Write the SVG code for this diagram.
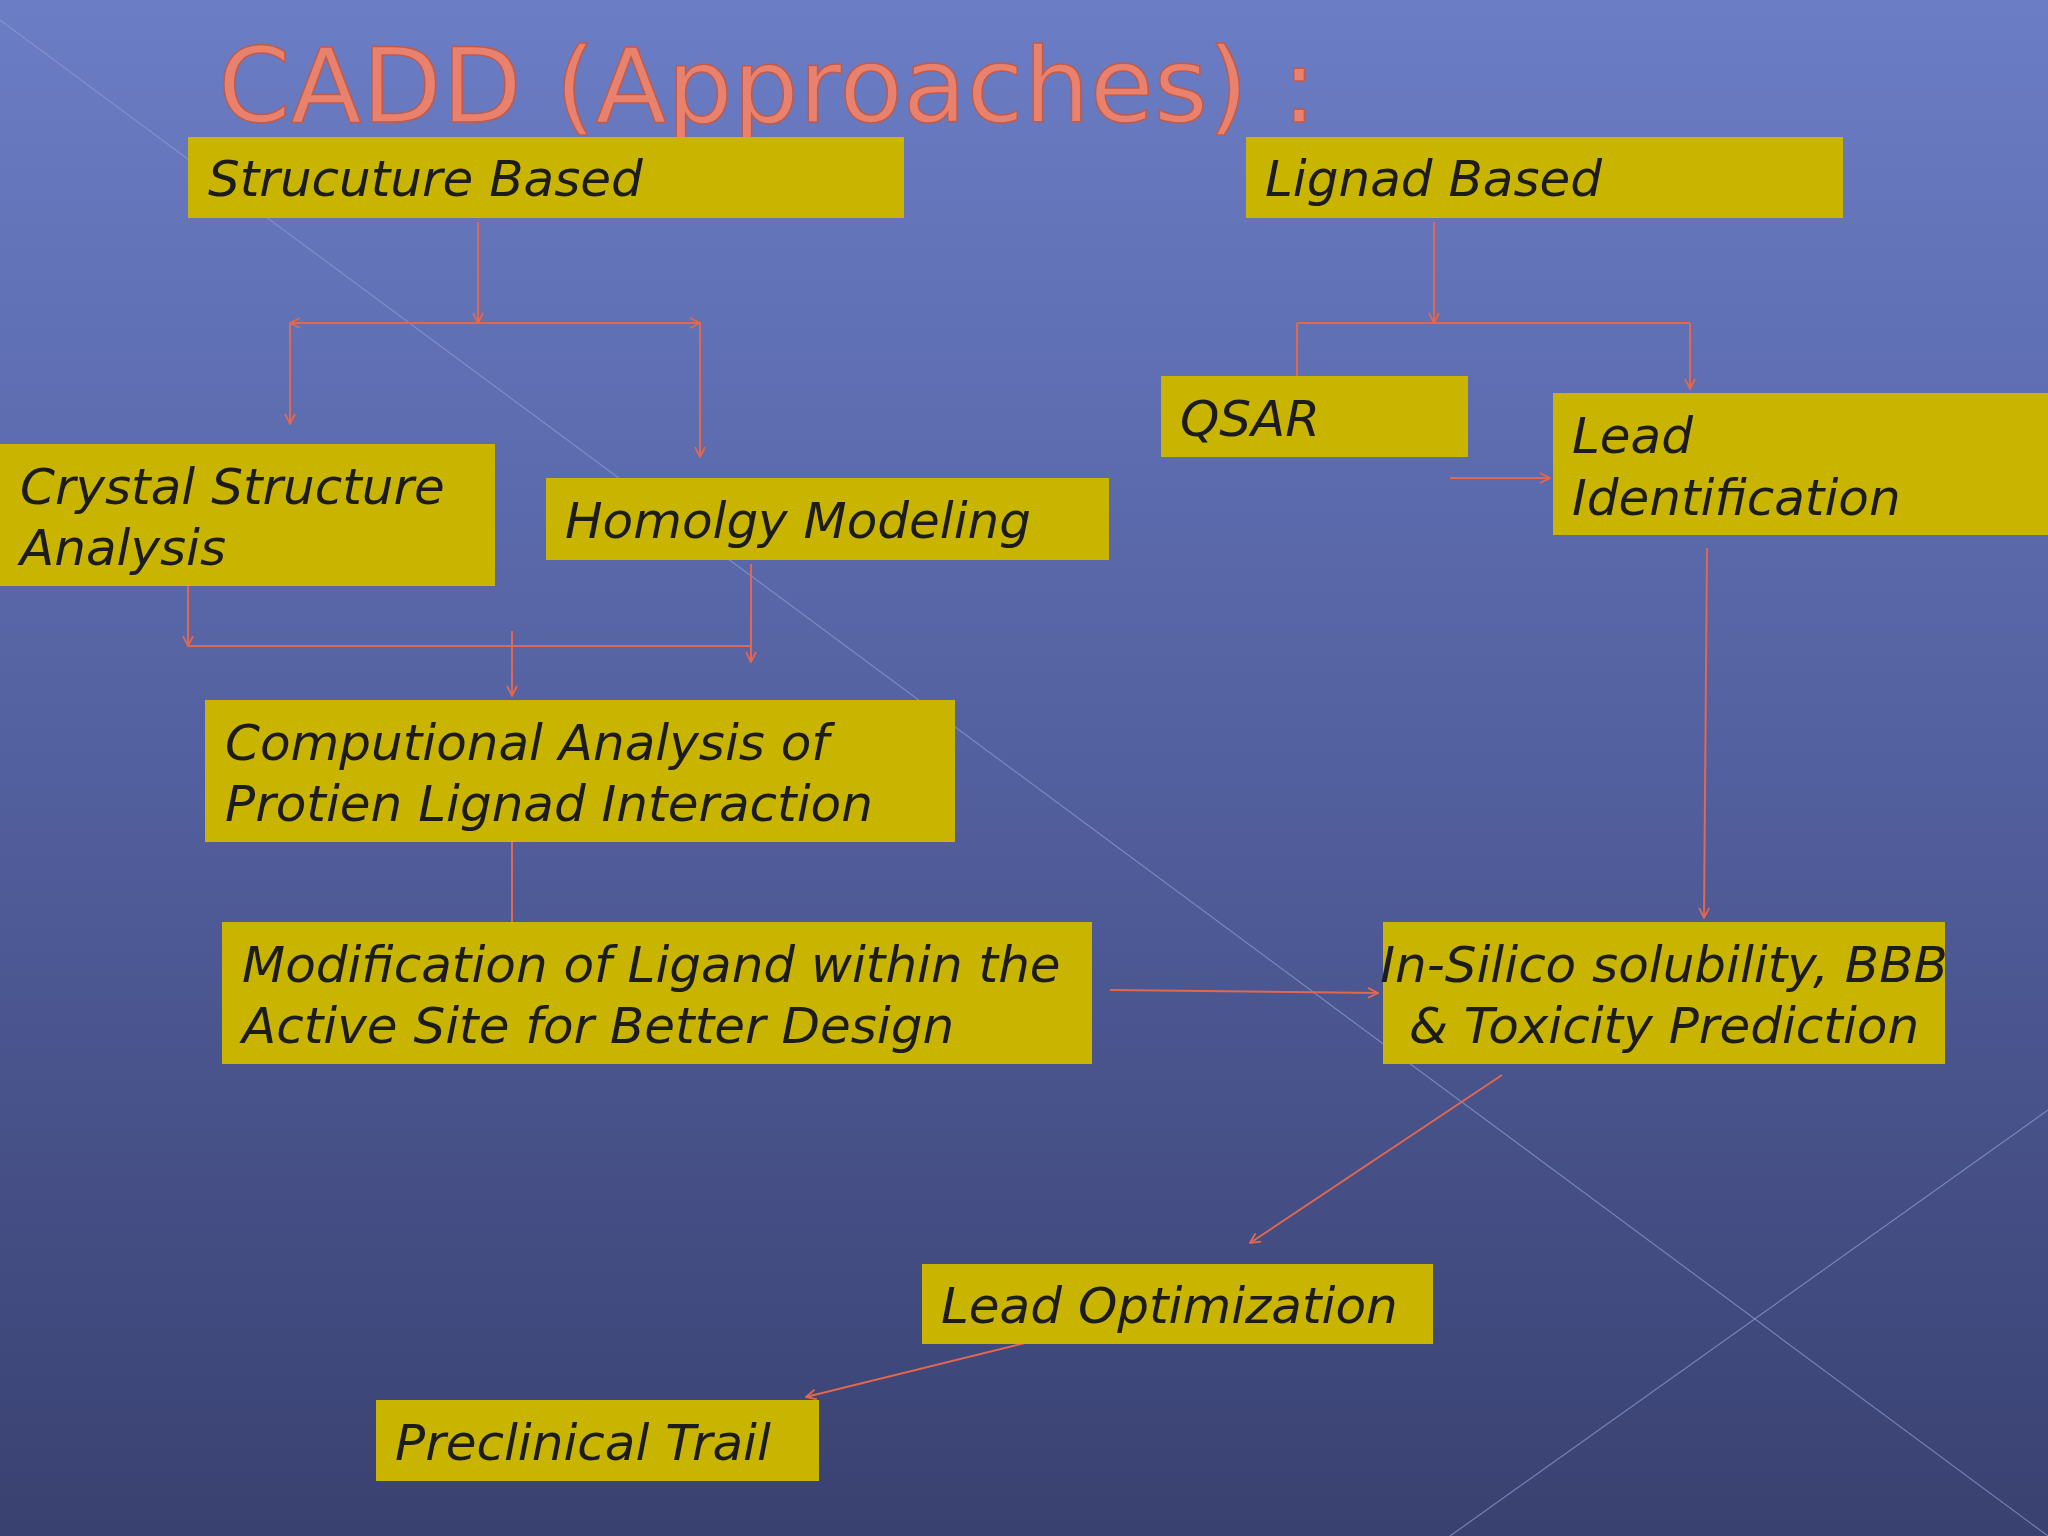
<svg xmlns="http://www.w3.org/2000/svg" width="2048" height="1536" viewBox="0 0 2048 1536">
<defs>
<linearGradient id="bg" x1="0" y1="0" x2="0" y2="1">
<stop offset="0" stop-color="#6b7dc5"/>
<stop offset="0.5" stop-color="#53609f"/>
<stop offset="1" stop-color="#394170"/>
</linearGradient>
<marker id="ah" viewBox="0 0 12 12" refX="11" refY="6" markerWidth="12" markerHeight="12" markerUnits="userSpaceOnUse" orient="auto-start-reverse">
<path d="M1 1 L11 6 L1 11" fill="none" stroke="#e2674f" stroke-width="1.8"/>
</marker>
<style>
.box{fill:#c9b500}
.t{font-family:"DejaVu Sans","Liberation Sans",sans-serif;font-style:italic;font-size:50px;fill:#1c1c1c}
.c line{stroke:#e2674f;stroke-width:2;fill:none}
.c line.a{marker-end:url(#ah)}
</style>
</defs>
<rect width="2048" height="1536" fill="url(#bg)"/>
<line x1="0" y1="20" x2="2048" y2="1536" stroke="#8d9bd0" stroke-width="1.2" opacity="0.7"/>
<line x1="1450" y1="1536" x2="2048" y2="1110" stroke="#8d9bd0" stroke-width="1.2" opacity="0.7"/>
<text x="218" y="122" font-family="DejaVu Sans,sans-serif" font-size="104" fill="#e8826e" stroke="#c25a48" stroke-width="1.5">CADD (Approaches) :</text>
<g class="c">
<line class="a" x1="478" y1="222" x2="478" y2="323"/>
<line class="a" x1="478" y1="323" x2="290" y2="323"/>
<line class="a" x1="478" y1="323" x2="700" y2="323"/>
<line class="a" x1="290" y1="323" x2="290" y2="424"/>
<line class="a" x1="700" y1="323" x2="700" y2="457"/>
<line class="a" x1="1434" y1="222" x2="1434" y2="323"/>
<line x1="1297" y1="323" x2="1690" y2="323"/>
<line class="a" x1="1297" y1="323" x2="1297" y2="389"/>
<line class="a" x1="1690" y1="323" x2="1690" y2="389"/>
<line class="a" x1="1450" y1="478" x2="1550" y2="478"/>
<line class="a" x1="1707" y1="548" x2="1704" y2="918"/>
<line class="a" x1="188" y1="586" x2="188" y2="646"/>
<line class="a" x1="751" y1="564" x2="751" y2="662"/>
<line x1="188" y1="646" x2="751" y2="646"/>
<line class="a" x1="512" y1="631" x2="512" y2="696"/>
<line class="a" x1="512" y1="842" x2="512" y2="936"/>
<line class="a" x1="1110" y1="990" x2="1378" y2="993"/>
<line class="a" x1="1502" y1="1075" x2="1250" y2="1243"/>
<line class="a" x1="1074" y1="1331" x2="806" y2="1397"/>
</g>
<g id="structure"><rect class="box" x="188" y="137" width="716" height="81"/><text class="t" x="208" y="196">Strucuture Based</text></g>
<g id="ligand"><rect class="box" x="1246" y="137" width="597" height="81"/><text class="t" x="1265" y="196">Lignad Based</text></g>
<g id="qsar"><rect class="box" x="1161" y="376" width="307" height="81"/><text class="t" x="1180" y="436">QSAR</text></g>
<g id="leadid"><rect class="box" x="1553" y="393" width="495" height="142"/><text class="t" x="1572" y="453">Lead</text><text class="t" x="1572" y="515">Identification</text></g>
<g id="crystal"><rect class="box" x="0" y="444" width="495" height="142"/><text class="t" x="20" y="504">Crystal Structure</text><text class="t" x="20" y="565">Analysis</text></g>
<g id="homology"><rect class="box" x="546" y="478" width="563" height="82"/><text class="t" x="565" y="538">Homolgy Modeling</text></g>
<g id="comp"><rect class="box" x="205" y="700" width="750" height="142"/><text class="t" x="225" y="760">Computional Analysis of</text><text class="t" x="225" y="821">Protien Lignad Interaction</text></g>
<g id="modif"><rect class="box" x="222" y="922" width="870" height="142"/><text class="t" x="242" y="982">Modification of Ligand within the</text><text class="t" x="242" y="1043">Active Site for Better Design</text></g>
<g id="insilico"><rect class="box" x="1383" y="922" width="562" height="142"/><text class="t" x="1664" y="982" text-anchor="middle">In-Silico solubility, BBB</text><text class="t" x="1664" y="1043" text-anchor="middle">&amp; Toxicity Prediction</text></g>
<g id="leadopt"><rect class="box" x="922" y="1264" width="511" height="80"/><text class="t" x="941" y="1323">Lead Optimization</text></g>
<g id="preclin"><rect class="box" x="376" y="1400" width="443" height="81"/><text class="t" x="395" y="1460">Preclinical Trail</text></g>
</svg>
